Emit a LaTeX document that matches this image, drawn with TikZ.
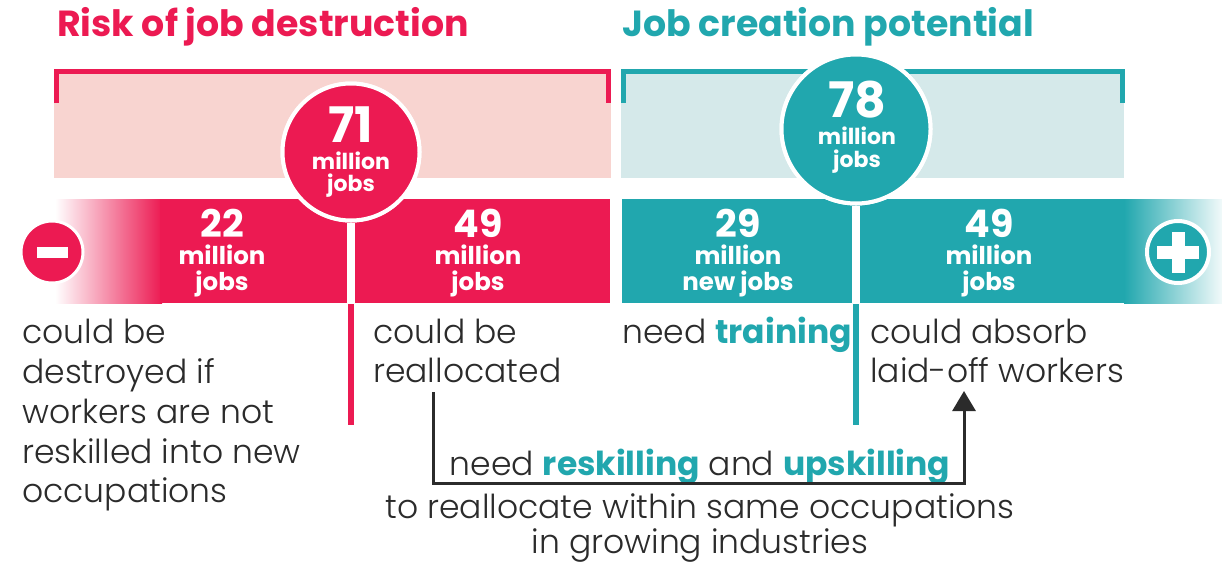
\documentclass[tikz,border=0pt]{standalone}
\usepackage{fontspec}
\setmainfont{Poppins}
\newfontfamily\lightfont{Poppins Light}
\usetikzlibrary{arrows.meta}
\definecolor{rred}{HTML}{EC1A52}
\definecolor{rpink}{HTML}{F8D4D0}
\definecolor{tteal}{HTML}{21A7AE}
\definecolor{tlight}{HTML}{D5E9EA}
\definecolor{txt}{HTML}{2B2B2B}
\tikzset{
  ttl/.style={anchor=base west, inner sep=0pt, font=\bfseries\fontsize{36.3}{36.3}\selectfont},
  body/.style={anchor=base west, inner sep=0pt, text=txt, font=\lightfont\fontsize{33}{33}\selectfont},
  bodyc/.style={anchor=base, inner sep=0pt, text=txt, font=\lightfont\fontsize{33}{33}\selectfont},
  bignum/.style={anchor=base, inner sep=0pt, text=white, font=\bfseries\fontsize{49}{49}\selectfont},
  circtxt/.style={anchor=base, inner sep=0pt, text=white, font=\bfseries\fontsize{22}{22}\selectfont},
  barnum/.style={anchor=base, inner sep=0pt, text=white, font=\bfseries\fontsize{38}{38}\selectfont},
  bartxt/.style={anchor=base, inner sep=0pt, text=white, font=\bfseries\fontsize{24.5}{24.5}\selectfont},
  bigcirc/.style={circle, draw=white, line width=4pt, inner sep=0pt},
}
\newcommand{\hlt}[1]{{\color{tteal}\fontspec{Poppins}\bfseries #1}}
\begin{document}
\begin{tikzpicture}[x=1pt,y=-1pt]
\useasboundingbox (0,0) rectangle (1222,563);
\fill[white] (0,0) rectangle (1222,563);
% titles
\node[ttl, text=rred] (t1) at (57,36) {Risk of job destruction};
\node[ttl, text=tteal] (t2) at (622,36) {Job creation potential};
% upper light boxes
\fill[rpink] (54,72) rectangle (611,178);
\fill[tlight] (621,72) rectangle (1124,178);
\draw[rred, line width=5pt, line join=miter] (56,103) -- (56,71.5) -- (608,71.5) -- (608,103);
\draw[tteal, line width=5pt, line join=miter] (623,103) -- (623,71.5) -- (1122,71.5) -- (1122,103);
% bars
\shade[left color=white, right color=rred] (55,199) rectangle (162,303);
\fill[rred] (160,199) rectangle (610,303);
\fill[tteal] (622,199) rectangle (1126,303);
\shade[left color=tteal, right color=tteal!6] (1124,199) rectangle (1222,303);
% coordinates of split lines
\coordinate (rb) at (351,303);
\coordinate (ra) at (351,304);
\coordinate (re) at (351,425);
\coordinate (tb) at (856,303);
\coordinate (ta) at (856,304);
\coordinate (te) at (856,425);
% circles
\node[bigcirc, fill=rred, minimum size=137pt] (c71) at (351,152) {};
\node[bigcirc, fill=tteal, minimum size=149pt] (c78) at (856,129) {};
\draw[white, line width=8pt] (c71.south) -- (rb);
\draw[white, line width=8pt] (c78.south) -- (tb);
\draw[rred, line width=6pt] (ra) -- (re);
\draw[tteal, line width=6pt] (ta) -- (te);
\node[bigcirc, fill=rred, minimum size=137pt] (c71b) at (c71) {};
\node[bigcirc, fill=tteal, minimum size=149pt] (c78b) at (c78) {};
% circle texts
\node[bignum] (n71) at (351,142) {71};
\node[circtxt] (m71) at (351,169) {million};
\node[circtxt] (j71) at (351,191) {jobs};
\node[bignum] (n78) at (857,117) {78};
\node[circtxt] (m78) at (857,144) {million};
\node[circtxt] (j78) at (857,167) {jobs};
% bar texts
\node[barnum] (n22) at (222,237) {22};
\node[bartxt] (m22) at (222,264) {million};
\node[bartxt] (j22) at (222,290) {jobs};
\node[barnum] (n49a) at (478,237) {49};
\node[bartxt] (m49a) at (478,264) {million};
\node[bartxt] (j49a) at (478,290) {jobs};
\node[barnum] (n29) at (738,237) {29};
\node[bartxt] (m29) at (738,264) {million};
\node[bartxt] (j29) at (738,290) {new jobs};
\node[barnum] (n49b) at (989,237) {49};
\node[bartxt] (m49b) at (989,264) {million};
\node[bartxt] (j49b) at (989,290) {jobs};
% minus / plus
\node[circle, fill=rred, draw=white, line width=3pt, minimum size=62pt, inner sep=0pt] (minus) at (52,252) {};
\node[fill=white, minimum width=31pt, minimum height=11pt, inner sep=0pt] (minusbar) at (minus) {};
\node[circle, fill=tteal, draw=white, line width=4pt, minimum size=62pt, inner sep=0pt] (plus) at (1178,252) {};
\node[fill=white, minimum width=42pt, minimum height=13pt, inner sep=0pt] (plush) at (plus) {};
\node[fill=white, minimum width=13pt, minimum height=41pt, inner sep=0pt] (plusv) at (plus) {};
% lower texts
\node[body] (a1) at (22,343) {could be};
\node[body] (a2) at (22,383) {destroyed if};
\node[body] (a3) at (22,423) {workers are not};
\node[body] (a4) at (22,463) {reskilled into new};
\node[body] (a5) at (22,502) {occupations};
\node[body] (b1) at (373,343) {could be};
\node[body] (b2) at (373,382) {reallocated};
\node[body] (c1) at (622,343) {need \hlt{training}};
\node[body] (d1) at (870,343) {could absorb};
\node[body] (d2) at (870,382) {laid-off workers};
\node[bodyc] (e1) at (700,475) {need \hlt{reskilling} and \hlt{upskilling}};
\node[bodyc] (e2) at (700,518) {to reallocate within same occupations};
\node[bodyc] (e3) at (700,553) {in growing industries};
% arrow
\coordinate (as) at (433,392);
\coordinate (k1) at (433,483);
\coordinate (k2) at (964,483);
\coordinate (ae) at (964,391);
\draw[txt, line width=3pt, line join=miter, -{Triangle[width=23pt,length=20pt]}] (as) -- (k1) -- (k2) -- (ae);
\end{tikzpicture}
\end{document}
